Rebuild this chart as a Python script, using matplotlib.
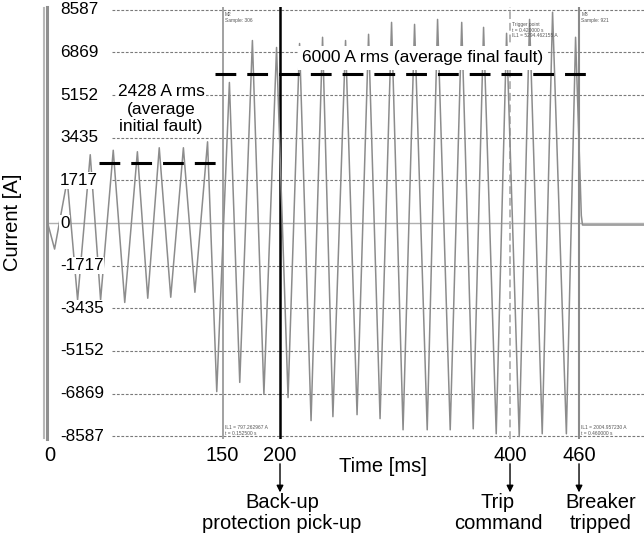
import matplotlib
matplotlib.use("Agg")
import matplotlib.pyplot as plt

plt.rcParams['font.family'] = ['Liberation Sans', 'DejaVu Sans']

# waveform: half-cycle peaks (time in ms, current in A)
peak_ms = [-2.6, 4, 15, 24, 35, 44, 55, 65, 76, 85, 95, 105, 116, 126, 137,
           145, 156, 165, 176, 186, 197, 207, 217, 227, 237, 246, 257, 267,
           277, 287, 297, 307, 317, 328, 337, 348, 358, 368, 377, 388, 397,
           408, 417, 428, 437, 449, 457, 462, 463, 516.5]
peak_amp = [100, -1050, 1740, -3100, 2750, -3100, 2930, -3200, 2870, -3030,
            3030, -2990, 3030, -2790, 3270, -6790, 5660, -6420, 7350, -6900,
            7070, -7030, 7230, -7960, 7480, -7800, 7350, -7720, 7600, -7880,
            8080, -8330, 8000, -8330, 8200, -8330, 8080, -8290, 7880, -8490,
            7640, -8600, 8200, -8490, 8490, -8490, 7480, 300, -80, -80]

y_ticks = [8587, 6869, 5152, 3435, 1717, 0, -1717, -3435, -5152, -6869, -8587]
x_ticks = [0, 150, 200, 400, 460]

rms_initial = 2428
rms_initial_span = (42.6, 145)
rms_final = 6000
rms_final_span = (143.5, 468)

events = [200, 400, 460]
event_labels = ["Back-up\nprotection pick-up", "Trip\ncommand", "Breaker\ntripped"]

fig = plt.figure(figsize=(6.44, 5.38), dpi=100)
ax = fig.add_axes([47 / 644, 1 - 439 / 538, 597 / 644, 432 / 538])
ax.set_xlim(-2.6, 516.5)
ax.set_ylim(-8700, 8700)

# grid
grid_vals = [v for v in y_ticks if v != 0]
ax.hlines(grid_vals, 54, 516.5, colors="#7a7a7a", linewidth=0.8,
          linestyles=(0, (2.5, 1.5)), zorder=1)
ax.axhline(0, color="#b0b0b0", linewidth=1.0, zorder=1)

# marker lines from the recorder
ax.axvline(150, color="#9a9a9a", linewidth=1.3, zorder=2)
ax.axvline(200, color="black", linewidth=1.8, zorder=2)
ax.axvline(400, color="#b5b5b5", linewidth=1.4, linestyle=(0, (4, 2)), zorder=2)
ax.axvline(460, color="#8a8a8a", linewidth=1.5, zorder=2)

ax.plot(peak_ms, peak_amp, color="#8c8c8c", linewidth=1.1, zorder=3)

# rms levels
ax.plot(rms_initial_span, [rms_initial] * 2, color="black", linewidth=2.2,
        linestyle=(0, (6.8, 3.6)), zorder=4)
ax.plot(rms_final_span, [rms_final] * 2, color="black", linewidth=2.2,
        linestyle=(0, (6.8, 3.6)), zorder=4)

ax.text(96.5, 4590, "2428 A rms\n(average\ninitial fault)", ha="center", va="center",
        fontsize=12.5, zorder=5,
        bbox=dict(facecolor="white", edgecolor="none", pad=1))
ax.text(324, 6650, "6000 A rms (average final fault)", ha="center", va="center",
        fontsize=12.5, zorder=5,
        bbox=dict(facecolor="white", edgecolor="none", pad=3))

# y tick labels drawn inside the frame
for v in y_ticks:
    ax.text(8.7, v, str(v), ha="left", va="center", fontsize=12.3, zorder=6,
            bbox=dict(facecolor="white", edgecolor="none", pad=0.5))

# tiny cursor read-outs
tiny = dict(fontsize=3.5, color="#555555", va="top", ha="left", zorder=6)
ax.text(152, 8500, "M2\nSample: 306", **tiny)
ax.text(402, 8100, "Trigger point\nt = 0.420000 s\nIL1 = 5294.462155 A", **tiny)
ax.text(462, 8500, "M3\nSample: 921", **tiny)
ax.text(152, -8150, "IL1 = 797.262967 A\nt = 0.152500 s", **tiny)
ax.text(462, -8150, "IL1 = 2004.957230 A\nt = 0.460000 s", **tiny)

for side in ["top", "right", "bottom"]:
    ax.spines[side].set_visible(False)
ax.spines["left"].set_color("#8f8f8f")
ax.spines["left"].set_linewidth(2.2)
fig.add_artist(plt.Line2D([44 / 644] * 2, [1 - 8 / 538, 1 - 438 / 538],
                          color="#b8b8b8", linewidth=1.5))

ax.set_yticks([])
ax.set_xticks(x_ticks)
ax.set_xticklabels([str(t) for t in x_ticks], fontsize=14.5)
ax.tick_params(axis="x", length=0, pad=5)

fig.text(13 / 644, 1 - 222 / 538, "Current [A]", rotation=90, ha="center",
         va="center", fontsize=14.5)
fig.text(383 / 644, 1 - 467 / 538, "Time [ms]", ha="center", va="center",
         fontsize=14.5)

# event arrows and labels below the axis
for t, lab, dx in zip(events, event_labels, [2, -12, 22]):
    ax.annotate("", xy=(t, -10850), xytext=(t, -9700), xycoords="data",
                annotation_clip=False,
                arrowprops=dict(arrowstyle="-|>", color="black", lw=1.0,
                                mutation_scale=10, shrinkA=0, shrinkB=0))
    ax.text(t + dx / 1.15, -11680, lab, ha="center", va="center", fontsize=14.5,
            linespacing=1.1, clip_on=False)

fig.savefig("out.png", dpi=100)
